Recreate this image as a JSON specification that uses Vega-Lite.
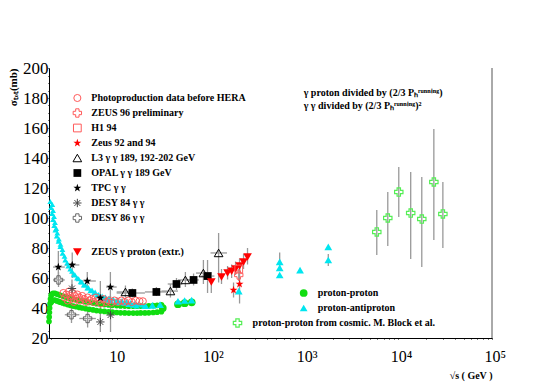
{
"$schema":"https://vega.github.io/schema/vega-lite/v6.json",
"width":443,"height":270,
"autosize":"none",
"padding":{"left":49,"top":68,"right":49,"bottom":51},
"background":"white",
"config":{"view":{"stroke":null},"axis":{"labelOverlap":false,"labelBound":false,"labelFlush":false,"grid":false}},
"resolve":{"axis":{"x":"independent","y":"independent"}},
"datasets":{
"pts":[
{"s":"pp","x":1.9,"y":31},{"s":"pp","x":1.91,"y":34},{"s":"pp","x":1.92,"y":37},{"s":"pp","x":1.93,"y":40},{"s":"pp","x":1.95,"y":43},{"s":"pp","x":1.97,"y":46},
{"s":"pp","x":2.0,"y":48.3},{"s":"pp","x":2.0,"y":43.7},{"s":"pp","x":2.05,"y":49.3},{"s":"pp","x":2.05,"y":44.7},{"s":"pp","x":2.1,"y":49.8},{"s":"pp","x":2.1,"y":45.2},{"s":"pp","x":2.2,"y":49.8},{"s":"pp","x":2.2,"y":45.2},{"s":"pp","x":2.3,"y":49.3},{"s":"pp","x":2.3,"y":44.7},{"s":"pp","x":2.4,"y":49},{"s":"pp","x":2.4,"y":44.4},{"s":"pp","x":2.5,"y":48.5},{"s":"pp","x":2.5,"y":43.9},{"s":"pp","x":2.65,"y":48},{"s":"pp","x":2.65,"y":43.4},{"s":"pp","x":2.8,"y":47.5},{"s":"pp","x":2.8,"y":42.9},{"s":"pp","x":3.0,"y":46.9},{"s":"pp","x":3.0,"y":42.3},{"s":"pp","x":3.2,"y":46.4},{"s":"pp","x":3.2,"y":41.8},{"s":"pp","x":3.45,"y":45.9},{"s":"pp","x":3.45,"y":41.3},{"s":"pp","x":3.7,"y":45.5},{"s":"pp","x":3.7,"y":40.9},{"s":"pp","x":4.0,"y":45},{"s":"pp","x":4.0,"y":40.4},{"s":"pp","x":4.3,"y":44.6},{"s":"pp","x":4.3,"y":40},{"s":"pp","x":4.7,"y":44.1},{"s":"pp","x":4.7,"y":39.5},{"s":"pp","x":5.1,"y":43.7},{"s":"pp","x":5.1,"y":39.1},{"s":"pp","x":5.6,"y":43.3},{"s":"pp","x":5.6,"y":38.7},{"s":"pp","x":6.1,"y":42.9},{"s":"pp","x":6.1,"y":38.3},{"s":"pp","x":6.7,"y":42.6},{"s":"pp","x":6.7,"y":38},{"s":"pp","x":7.4,"y":42.3},{"s":"pp","x":7.4,"y":37.7},{"s":"pp","x":8.2,"y":42},{"s":"pp","x":8.2,"y":37.4},{"s":"pp","x":9.0,"y":41.8},{"s":"pp","x":9.0,"y":37.2},{"s":"pp","x":10,"y":41.6},{"s":"pp","x":10,"y":37},{"s":"pp","x":11,"y":41.4},{"s":"pp","x":11,"y":36.8},{"s":"pp","x":12.2,"y":41.3},{"s":"pp","x":12.2,"y":36.7},{"s":"pp","x":13.5,"y":41.2},{"s":"pp","x":13.5,"y":36.6},{"s":"pp","x":15,"y":41.2},{"s":"pp","x":15,"y":36.6},{"s":"pp","x":16.5,"y":41.2},{"s":"pp","x":16.5,"y":36.6},{"s":"pp","x":18,"y":41.3},{"s":"pp","x":18,"y":36.7},{"s":"pp","x":20,"y":41.3},{"s":"pp","x":20,"y":36.7},{"s":"pp","x":22,"y":41.4},{"s":"pp","x":22,"y":36.8},{"s":"pp","x":24.5,"y":41.6},{"s":"pp","x":24.5,"y":37},{"s":"pp","x":27,"y":41.8},{"s":"pp","x":27,"y":37.2},{"s":"pp","x":30,"y":42.1},{"s":"pp","x":30,"y":37.5},
{"s":"ppisr","x":31,"y":40},{"s":"ppisr","x":45,"y":42.5},{"s":"ppisr","x":53,"y":43.2},{"s":"ppisr","x":63,"y":43.8},
{"s":"pbar","x":1.96,"y":111},{"s":"pbar","x":2.0,"y":107},{"s":"pbar","x":2.05,"y":103},{"s":"pbar","x":2.1,"y":99},{"s":"pbar","x":2.16,"y":95},{"s":"pbar","x":2.22,"y":92},{"s":"pbar","x":2.3,"y":88},{"s":"pbar","x":2.4,"y":84.5},{"s":"pbar","x":2.51,"y":81},{"s":"pbar","x":2.65,"y":76.5},{"s":"pbar","x":2.83,"y":72},{"s":"pbar","x":3.05,"y":68},{"s":"pbar","x":3.34,"y":64.5},{"s":"pbar","x":3.6,"y":62},{"s":"pbar","x":3.93,"y":59.5},{"s":"pbar","x":4.25,"y":57.3},{"s":"pbar","x":4.63,"y":55.3},{"s":"pbar","x":5.0,"y":53.6},{"s":"pbar","x":5.46,"y":52},{"s":"pbar","x":5.9,"y":50.6},{"s":"pbar","x":6.42,"y":49},{"s":"pbar","x":7.0,"y":48},{"s":"pbar","x":7.6,"y":47.3},{"s":"pbar","x":8.3,"y":46.7},{"s":"pbar","x":9.2,"y":46},{"s":"pbar","x":10.2,"y":45.5},{"s":"pbar","x":11.4,"y":45},{"s":"pbar","x":12.7,"y":44.3},{"s":"pbar","x":14,"y":43.6},{"s":"pbar","x":15.5,"y":43},{"s":"pbar","x":17,"y":42.5},{"s":"pbar","x":18.7,"y":42},
{"s":"pbar","x":2.06,"y":109},{"s":"pbar","x":2.1,"y":105},{"s":"pbar","x":2.15,"y":101},{"s":"pbar","x":2.2,"y":97},{"s":"pbar","x":2.27,"y":93},{"s":"pbar","x":2.33,"y":90},{"s":"pbar","x":2.42,"y":86},{"s":"pbar","x":2.52,"y":82.5},{"s":"pbar","x":2.64,"y":79},{"s":"pbar","x":2.78,"y":74.5},{"s":"pbar","x":2.97,"y":70},{"s":"pbar","x":3.2,"y":66},{"s":"pbar","x":3.5,"y":62.5},{"s":"pbar","x":3.78,"y":60},{"s":"pbar","x":4.13,"y":57.5},{"s":"pbar","x":4.46,"y":55.3},{"s":"pbar","x":4.86,"y":53.3},{"s":"pbar","x":5.25,"y":51.6},{"s":"pbar","x":5.73,"y":50},{"s":"pbar","x":6.2,"y":48.6},{"s":"pbar","x":6.74,"y":47},{"s":"pbar","x":7.35,"y":46},{"s":"pbar","x":8.0,"y":45.3},{"s":"pbar","x":8.7,"y":44.7},{"s":"pbar","x":9.7,"y":44},{"s":"pbar","x":10.7,"y":43.5},{"s":"pbar","x":12,"y":43},{"s":"pbar","x":13.3,"y":42.3},{"s":"pbar","x":14.8,"y":41.8},{"s":"pbar","x":16.3,"y":41.3},
{"s":"pbar2","x":20.2,"y":41.5},{"s":"pbar2","x":24,"y":41.8},{"s":"pbar2","x":29,"y":42.3},{"s":"pbar2","x":45,"y":44.5},{"s":"pbar2","x":53,"y":45},{"s":"pbar2","x":63,"y":45.3},{"s":"pbar2","x":200,"y":51.3},
{"s":"pbar2","x":546,"y":70.7,"ylo":66,"yhi":77},{"s":"pbar2","x":546,"y":66.7},{"s":"pbar2","x":546,"y":62},{"s":"pbar2","x":900,"y":65.3},{"s":"pbar2","x":1800,"y":80.7},{"s":"pbar2","x":1800,"y":72,"ylo":68,"yhi":76},
{"s":"photo","x":2.7,"y":50},{"s":"photo","x":2.8,"y":47},{"s":"photo","x":2.9,"y":49},{"s":"photo","x":3.0,"y":45},{"s":"photo","x":3.1,"y":51},{"s":"photo","x":3.2,"y":48},{"s":"photo","x":3.3,"y":46},{"s":"photo","x":3.4,"y":50},{"s":"photo","x":3.5,"y":44},{"s":"photo","x":3.6,"y":48},{"s":"photo","x":3.7,"y":46},{"s":"photo","x":3.8,"y":49},{"s":"photo","x":4.0,"y":47},{"s":"photo","x":4.1,"y":45},{"s":"photo","x":4.3,"y":48},{"s":"photo","x":4.5,"y":46},{"s":"photo","x":4.7,"y":44},{"s":"photo","x":4.9,"y":47},{"s":"photo","x":5.1,"y":45},{"s":"photo","x":5.4,"y":46},{"s":"photo","x":5.7,"y":44},{"s":"photo","x":6.0,"y":47},{"s":"photo","x":6.4,"y":45},{"s":"photo","x":6.8,"y":43},{"s":"photo","x":7.2,"y":46},{"s":"photo","x":7.7,"y":44},{"s":"photo","x":8.2,"y":45},{"s":"photo","x":8.8,"y":43.5},{"s":"photo","x":9.5,"y":45},{"s":"photo","x":10.3,"y":44},{"s":"photo","x":11.2,"y":45},{"s":"photo","x":12.2,"y":44},{"s":"photo","x":13.3,"y":45},{"s":"photo","x":14.5,"y":44},{"s":"photo","x":16,"y":45},{"s":"photo","x":17.5,"y":44.5},{"s":"photo","x":19,"y":44.5},
{"s":"tpc","x":2.39,"y":67.3,"ylo":58,"yhi":78,"xlo":2.1,"xhi":2.8},{"s":"tpc","x":3.36,"y":68.7,"ylo":60,"yhi":77,"xlo":2.8,"xhi":4.0},{"s":"tpc","x":4.86,"y":58,"ylo":52,"yhi":64,"xlo":4.0,"xhi":6.0},{"s":"tpc","x":6.7,"y":46.7,"ylo":36,"yhi":58,"xlo":6.0,"xhi":7.7},{"s":"tpc","x":8.57,"y":54,"ylo":44,"yhi":64,"xlo":7.7,"xhi":10},
{"s":"d84","x":3.34,"y":53,"ylo":47,"yhi":59},{"s":"d84","x":6.7,"y":30.7,"ylo":24,"yhi":38},{"s":"d84","x":8.6,"y":35.3,"ylo":24,"yhi":48},
{"s":"d86","x":2.4,"y":58.7,"ylo":54,"yhi":64,"xlo":2.1,"xhi":2.8},{"s":"d86","x":3.3,"y":35.5,"ylo":30,"yhi":41,"xlo":2.8,"xhi":4.0},{"s":"d86","x":4.9,"y":33,"ylo":27,"yhi":39,"xlo":4.0,"xhi":6.0},
{"s":"l3","x":12.4,"y":50.7,"ylo":47,"yhi":55,"xlo":10,"xhi":15},{"s":"l3","x":37.4,"y":51.3,"ylo":47,"yhi":56,"xlo":30,"xhi":45},{"s":"l3","x":54,"y":58.7,"ylo":54,"yhi":64,"xlo":45,"xhi":65},{"s":"l3","x":84,"y":63.3,"ylo":56,"yhi":72,"xlo":70,"xhi":100},{"s":"l3","x":122,"y":76.7,"ylo":57,"yhi":90,"xlo":100,"xhi":150},
{"s":"opal","x":14.7,"y":50,"ylo":47,"yhi":53,"xlo":10,"xhi":20},{"s":"opal","x":26.5,"y":50.7,"ylo":48,"yhi":54,"xlo":20,"xhi":35},{"s":"opal","x":43.4,"y":56,"ylo":52,"yhi":60,"xlo":35,"xhi":50},{"s":"opal","x":66,"y":58.7,"ylo":55,"yhi":63,"xlo":55,"xhi":75},{"s":"opal","x":93,"y":61.3,"ylo":50,"yhi":72,"xlo":80,"xhi":110},
{"s":"zext","x":102,"y":57.3,"ylo":50,"yhi":64},{"s":"zext","x":131,"y":60.7,"ylo":56,"yhi":66},{"s":"zext","x":152,"y":63.3,"ylo":59,"yhi":68},{"s":"zext","x":168,"y":64.5,"ylo":60,"yhi":69},{"s":"zext","x":185,"y":66,"ylo":62,"yhi":71},{"s":"zext","x":204,"y":68,"ylo":63,"yhi":73},{"s":"zext","x":225,"y":70.7,"ylo":66,"yhi":76},{"s":"zext","x":248,"y":74,"ylo":69,"yhi":80},
{"s":"z9294","x":176,"y":52,"ylo":47,"yhi":57},{"s":"z9294","x":204,"y":56,"ylo":43,"yhi":67},
{"s":"z96","x":200,"y":62,"ylo":58,"yhi":66},
{"s":"h1","x":200,"y":66},
{"s":"cosmic","x":5916,"y":90.7,"ylo":75.3,"yhi":105.3},{"s":"cosmic","x":7750,"y":100,"ylo":81.3,"yhi":117.3},{"s":"cosmic","x":10150,"y":117.3,"ylo":100.7,"yhi":134},{"s":"cosmic","x":13600,"y":103.3,"ylo":72.7,"yhi":130.7},{"s":"cosmic","x":17850,"y":99.3,"ylo":67.3,"yhi":127.3},{"s":"cosmic","x":24000,"y":124,"ylo":85.3,"yhi":159.3},{"s":"cosmic","x":29950,"y":102.7,"ylo":80,"yhi":124},
{"s":"photo","x":3.81,"y":180,"tx":5.37,"t":"Photoproduction data before HERA"},
{"s":"z96","x":3.81,"y":170,"tx":5.37,"t":"ZEUS 96 preliminary"},
{"s":"h1","x":3.81,"y":160,"tx":5.37,"t":"H1 94"},
{"s":"z9294","x":3.81,"y":150,"tx":5.37,"t":"Zeus 92 and 94"},
{"s":"l3","x":3.81,"y":140,"tx":5.37,"t":"L3 γ γ 189, 192-202 GeV"},
{"s":"opal","x":3.81,"y":130,"tx":5.37,"t":"OPAL γ γ 189 GeV"},
{"s":"tpc","x":3.81,"y":120,"tx":5.37,"t":"TPC γ γ"},
{"s":"d84","x":3.81,"y":110,"tx":5.37,"t":"DESY 84 γ γ"},
{"s":"d86","x":3.81,"y":100,"tx":5.37,"t":"DESY 86 γ γ"},
{"s":"zext","x":3.81,"y":77.3,"tx":5.37,"t":"ZEUS γ proton (extr.)"},
{"s":"ppisr","x":984,"y":50,"tx":1387,"t":"proton-proton"},
{"s":"pbar2","x":984,"y":40,"tx":1387,"t":"proton-antiproton"},
{"s":"cosmic","x":194,"y":30,"tx":281,"t":"proton-proton from cosmic. M. Block et al."},
{"s":"note","tx":984,"y":183.3,"t":"γ proton divided  by (2/3 Pₕʳᵘⁿⁿⁱⁿᵍ)"},
{"s":"note","tx":984,"y":174.7,"t":"γ γ divided  by (2/3 Pₕʳᵘⁿⁿⁱⁿᵍ)²"}
],
"frame":[{"x":100000,"ylo":20,"yhi":200}]
},
"layer":[
{"data":{"name":"frame"},"mark":{"type":"rule","color":"#555","strokeWidth":1},
 "encoding":{
 "x":{"field":"x","type":"quantitative","scale":{"type":"log","domain":[1.9,100000],"nice":false},
  "axis":{"orient":"bottom","values":[2,3,4,5,6,7,8,9,10,20,30,40,50,60,70,80,90,100,200,300,400,500,600,700,800,900,1000,2000,3000,4000,5000,6000,7000,8000,9000,10000,20000,30000,40000,50000,60000,70000,80000,90000,100000],
   "labelExpr":"datum.value === 10 ? '10' : datum.value === 100 ? '10²' : datum.value === 1000 ? '10³' : datum.value === 10000 ? '10⁴' : datum.value === 100000 ? '10⁵' : ''",
   "tickSize":1,
   "encode":{"ticks":{"update":{"y2":{"signal":"indexof([10,100,1000,10000,100000], datum.value) >= 0 ? -8 : -4"}}}},
   "labelPadding":9,"labelAlign":"left","labelOffset":-8,"labelBaseline":"top","labelFont":"Liberation Serif","labelFontSize":16,"labelColor":"black",
   "labelOverlap":false,"labelFlush":false,"labelBound":false,"grid":false,"domainColor":"black","tickColor":"black",
   "title":"√s ( GeV )","titleFont":"Liberation Serif","titleFontWeight":"bold","titleFontSize":10,"titleColor":"black",
   "titleAnchor":"end","titleAlign":"right","titleX":443,"titleY":40,"titleBaseline":"alphabetic"}},
 "y":{"field":"ylo","type":"quantitative","scale":{"domain":[20,200],"nice":false,"zero":false},
  "axis":{"orient":"left","values":[20,25,30,35,40,45,50,55,60,65,70,75,80,85,90,95,100,105,110,115,120,125,130,135,140,145,150,155,160,165,170,175,180,185,190,195,200],
   "labelExpr":"datum.value % 20 === 0 ? datum.value : ''",
   "tickSize":1,
   "encode":{"ticks":{"update":{"x2":{"signal":"datum.value % 20 === 0 ? 7 : 4"}}}},
   "labelPadding":0,"labelFont":"Liberation Serif","labelFontSize":17,"labelColor":"black","labelBaseline":"middle",
   "labelOverlap":false,"labelFlush":false,"labelBound":false,"grid":false,"domainColor":"black","tickColor":"black",
   "title":"σₜₒₜ(mb)","titleFont":"Liberation Serif","titleFontWeight":"bold","titleFontSize":11,"titleColor":"black",
   "titleAngle":-90,"titleAlign":"right","titleBaseline":"middle","titleX":-36,"titleY":0}},
 "y2":{"field":"yhi"}}},
{"data":{"name":"pts"},"transform":[{"filter":"isValid(datum.ylo)"}],"mark":{"type":"rule","color":"#999","strokeWidth":1.3},
 "encoding":{"x":{"field":"x","type":"quantitative","axis":null},
 "y":{"field":"ylo","type":"quantitative","axis":null},
 "y2":{"field":"yhi"}}},
{"data":{"name":"pts"},"transform":[{"filter":"isValid(datum.xlo)"}],"mark":{"type":"rule","color":"#999","strokeWidth":1.3},
 "encoding":{"x":{"field":"xlo","type":"quantitative","axis":null},"x2":{"field":"xhi"},
 "y":{"field":"y","type":"quantitative","axis":null}}},
{"data":{"name":"pts"},"transform":[{"filter":"datum.s === 'pp'"}],"mark":{"type":"point","shape":"circle","filled":true,"color":"#11dd11","size":32,"opacity":1},
 "encoding":{"x":{"field":"x","type":"quantitative","axis":null},"y":{"field":"y","type":"quantitative","axis":null}}},
{"data":{"name":"pts"},"transform":[{"filter":"datum.s === 'pbar'"}],"mark":{"type":"point","shape":"triangle-up","filled":true,"color":"#00e6f0","size":34,"opacity":1},
 "encoding":{"x":{"field":"x","type":"quantitative","axis":null},"y":{"field":"y","type":"quantitative","axis":null}}},
{"data":{"name":"pts"},"transform":[{"filter":"datum.s === 'ppisr'"}],"mark":{"type":"point","shape":"circle","filled":true,"color":"#11dd11","size":60,"opacity":1},
 "encoding":{"x":{"field":"x","type":"quantitative","axis":null},"y":{"field":"y","type":"quantitative","axis":null}}},
{"data":{"name":"pts"},"transform":[{"filter":"datum.s === 'pbar2'"}],"mark":{"type":"point","shape":"triangle-up","filled":true,"color":"#00e6f0","size":60,"opacity":1},
 "encoding":{"x":{"field":"x","type":"quantitative","axis":null},"y":{"field":"y","type":"quantitative","axis":null}}},
{"data":{"name":"pts"},"transform":[{"filter":"datum.s === 'photo'"}],"mark":{"type":"point","shape":"circle","filled":false,"color":"#ff5a5a","size":50,"strokeWidth":1,"opacity":1},
 "encoding":{"x":{"field":"x","type":"quantitative","axis":null},"y":{"field":"y","type":"quantitative","axis":null}}},
{"data":{"name":"pts"},"transform":[{"filter":"datum.s === 'cosmic'"}],"mark":{"type":"point","shape":"cross","filled":false,"color":"#55ee55","size":70,"strokeWidth":1.2,"opacity":1},
 "encoding":{"x":{"field":"x","type":"quantitative","axis":null},"y":{"field":"y","type":"quantitative","axis":null}}},
{"data":{"name":"pts"},"transform":[{"filter":"datum.s === 'd86'"}],"mark":{"type":"point","shape":"cross","filled":false,"color":"#666","size":70,"strokeWidth":1,"opacity":1},
 "encoding":{"x":{"field":"x","type":"quantitative","axis":null},"y":{"field":"y","type":"quantitative","axis":null}}},
{"data":{"name":"pts"},"transform":[{"filter":"datum.s === 'd84'"}],"mark":{"type":"point","shape":"M-1,0L1,0M0,-1L0,1M-0.7,-0.7L0.7,0.7M-0.7,0.7L0.7,-0.7","filled":false,"color":"#444","size":70,"strokeWidth":1,"opacity":1},
 "encoding":{"x":{"field":"x","type":"quantitative","axis":null},"y":{"field":"y","type":"quantitative","axis":null}}},
{"data":{"name":"pts"},"transform":[{"filter":"datum.s === 'l3'"}],"mark":{"type":"point","shape":"triangle-up","filled":false,"color":"black","size":75,"strokeWidth":1,"opacity":1},
 "encoding":{"x":{"field":"x","type":"quantitative","axis":null},"y":{"field":"y","type":"quantitative","axis":null}}},
{"data":{"name":"pts"},"transform":[{"filter":"datum.s === 'opal'"}],"mark":{"type":"point","shape":"square","filled":true,"color":"black","size":60,"opacity":1},
 "encoding":{"x":{"field":"x","type":"quantitative","axis":null},"y":{"field":"y","type":"quantitative","axis":null}}},
{"data":{"name":"pts"},"transform":[{"filter":"datum.s === 'tpc'"}],"mark":{"type":"point","shape":"M0,-1L0.235,-0.324L0.951,-0.309L0.38,0.124L0.588,0.809L0,0.4L-0.588,0.809L-0.38,0.124L-0.951,-0.309L-0.235,-0.324Z","filled":true,"color":"black","size":70,"opacity":1},
 "encoding":{"x":{"field":"x","type":"quantitative","axis":null},"y":{"field":"y","type":"quantitative","axis":null}}},
{"data":{"name":"pts"},"transform":[{"filter":"datum.s === 'zext'"}],"mark":{"type":"point","shape":"triangle-down","filled":true,"color":"#ff0000","size":75,"opacity":1},
 "encoding":{"x":{"field":"x","type":"quantitative","axis":null},"y":{"field":"y","type":"quantitative","axis":null}}},
{"data":{"name":"pts"},"transform":[{"filter":"datum.s === 'z9294'"}],"mark":{"type":"point","shape":"M0,-1L0.235,-0.324L0.951,-0.309L0.38,0.124L0.588,0.809L0,0.4L-0.588,0.809L-0.38,0.124L-0.951,-0.309L-0.235,-0.324Z","filled":true,"color":"#ff0000","size":70,"opacity":1},
 "encoding":{"x":{"field":"x","type":"quantitative","axis":null},"y":{"field":"y","type":"quantitative","axis":null}}},
{"data":{"name":"pts"},"transform":[{"filter":"datum.s === 'z96'"}],"mark":{"type":"point","shape":"cross","filled":false,"color":"#ff5a5a","size":70,"strokeWidth":1,"opacity":1},
 "encoding":{"x":{"field":"x","type":"quantitative","axis":null},"y":{"field":"y","type":"quantitative","axis":null}}},
{"data":{"name":"pts"},"transform":[{"filter":"datum.s === 'h1'"}],"mark":{"type":"point","shape":"square","filled":false,"color":"#ff5a5a","size":60,"strokeWidth":1,"opacity":1},
 "encoding":{"x":{"field":"x","type":"quantitative","axis":null},"y":{"field":"y","type":"quantitative","axis":null}}},
{"data":{"name":"pts"},"transform":[{"filter":"isValid(datum.t)"}],"mark":{"type":"text","align":"left","baseline":"middle","font":"Liberation Serif","fontWeight":"bold","fontSize":10,"color":"black"},
 "encoding":{"x":{"field":"tx","type":"quantitative","axis":null},"y":{"field":"y","type":"quantitative","axis":null},"text":{"field":"t"}}}
]
}
